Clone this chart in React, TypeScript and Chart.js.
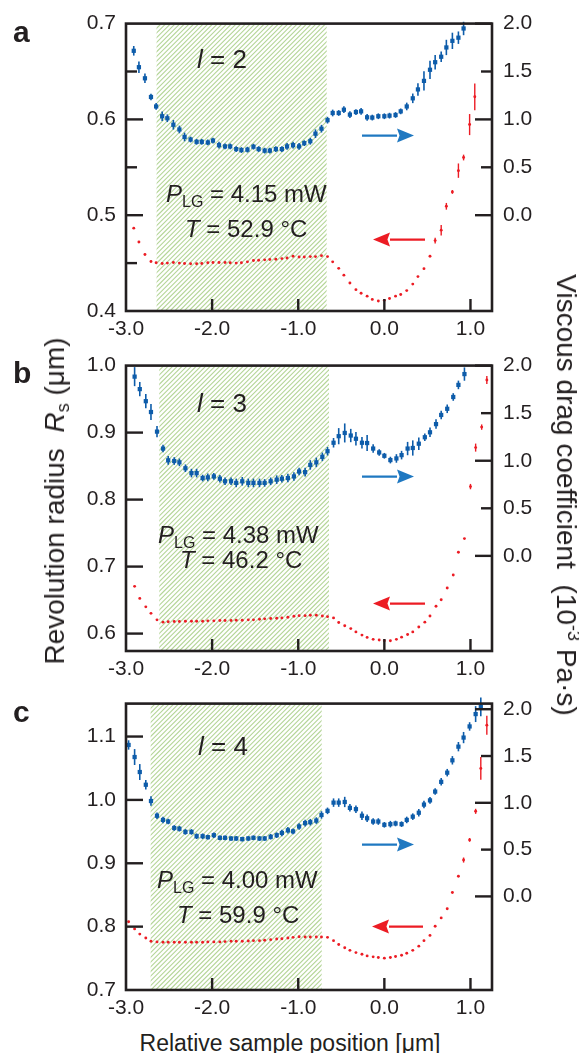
import React, { useEffect, useRef } from "react";
import { Chart, registerables } from "chart.js";

Chart.register(...registerables);

const FONT = "'Liberation Sans', Arial, Helvetica, sans-serif";
const INK = "#231f20";
const BLUE = "#0d5caa";
const BLUE_ARROW = "#1f78c1";
const RED = "#ec1c24";
const HATCH = "#b4d597";

// ---------- shared axis tick lists ----------
const X_LABELS = [-3, -2, -1, 0, 1];
const X_INNER = [-2, -1, 0, 1];
const RIGHT_LABELS = [0, 0.5, 1, 1.5, 2];
const RIGHT_MAJOR = [0, 1, 2];
const RIGHT_MINOR = [0.5, 1.5];

// ---------- panel a (l = 2) ----------
const xA = [-2.91, -2.85, -2.78, -2.71, -2.65, -2.58, -2.52, -2.45, -2.38, -2.32, -2.25, -2.18, -2.12, -2.05, -1.99, -1.92, -1.85, -1.79, -1.72, -1.66, -1.59, -1.52, -1.46, -1.39, -1.33, -1.26, -1.19, -1.13, -1.06, -0.99, -0.93, -0.86, -0.8, -0.73, -0.66, -0.6, -0.53, -0.47, -0.4, -0.33, -0.27, -0.2, -0.14, -0.07, 0.0, 0.06, 0.13, 0.19, 0.26, 0.33, 0.39, 0.46, 0.53, 0.59, 0.66, 0.72, 0.79, 0.86, 0.92, 0.99, 1.05];
const dragA = [1.716, 1.545, 1.429, 1.234, 1.135, 1.033, 1.012, 0.944, 0.895, 0.817, 0.79, 0.766, 0.766, 0.759, 0.779, 0.731, 0.718, 0.718, 0.69, 0.68, 0.684, 0.715, 0.69, 0.674, 0.674, 0.69, 0.69, 0.718,
  0.731, 0.718, 0.752, 0.772, 0.851, 0.903, 0.992, 1.067, 1.067, 1.101, 1.05, 1.077, 1.084, 1.022, 1.019, 1.033, 1.033, 1.039, 1.046, 1.084, 1.135, 1.22, 1.313, 1.402, 1.518, 1.597, 1.654, 1.751, 1.82, 1.853, 1.949];
const dragErrA = [0.05, 0.06, 0.05, 0.035, 0.035, 0.05, 0.04, 0.05, 0.04, 0.045, 0.03, 0.03, 0.03, 0.03, 0.03, 0.035, 0.03, 0.03, 0.03, 0.03, 0.03, 0.03, 0.03, 0.03, 0.03, 0.03, 0.03, 0.035,
  0.035, 0.035, 0.03, 0.035, 0.045, 0.04, 0.035, 0.035, 0.03, 0.035, 0.035, 0.03, 0.035, 0.035, 0.03, 0.03, 0.03, 0.03, 0.03, 0.03, 0.04, 0.05, 0.065, 0.1, 0.095, 0.075, 0.055, 0.08, 0.085, 0.065, 0.07];
const radiusA = [0.4865, 0.472, 0.459, 0.4517, 0.4503, 0.4496, 0.45, 0.4507, 0.45, 0.4496, 0.4493, 0.4493, 0.4496, 0.4503, 0.4507, 0.4507, 0.4507, 0.4503, 0.45, 0.4503, 0.4513, 0.4527, 0.453, 0.4534, 0.4537, 0.454, 0.4547, 0.4554,
  0.4571, 0.4564, 0.4564, 0.4568, 0.4568, 0.4578, 0.4568, 0.4513, 0.4445, 0.4374, 0.4292, 0.4223, 0.4186, 0.4155, 0.4121, 0.4104, 0.4111, 0.4131, 0.4155, 0.4172, 0.4213, 0.4281, 0.4359, 0.4442, 0.4571, 0.4735, 0.4844, 0.5093, 0.5243, 0.5465, 0.5602, 0.5946, 0.6236];
const radiusErrA = [0, 0, 0, 0, 0, 0, 0, 0, 0, 0, 0, 0, 0, 0, 0, 0, 0, 0, 0, 0, 0, 0, 0, 0, 0, 0, 0, 0, 0, 0,
  0, 0, 0, 0, 0, 0, 0, 0, 0, 0, 0, 0, 0, 0, 0, 0, 0, 0, 0, 0, 0, 0, 0, 0.003, 0.0055, 0.0035, 0.002, 0.0075, 0.003, 0.011, 0.014];
const leftLabelsA = [0.4, 0.5, 0.6, 0.7];
const leftMajorA = [0.5, 0.6];
const leftMinorA = [0.45, 0.55, 0.65];

// ---------- panel b (l = 3) ----------
const xB = [-2.9, -2.84, -2.77, -2.71, -2.64, -2.57, -2.51, -2.44, -2.38, -2.31, -2.24, -2.18, -2.11, -2.05, -1.98, -1.91, -1.85, -1.78, -1.72, -1.65, -1.58, -1.52, -1.45, -1.39, -1.32, -1.25, -1.19, -1.12, -1.05, -0.99, -0.92, -0.86, -0.79, -0.72, -0.66, -0.59, -0.53, -0.46, -0.39, -0.33, -0.26, -0.2, -0.13, -0.06, 0.0, 0.07, 0.14, 0.2, 0.27, 0.33, 0.4, 0.47, 0.53, 0.6, 0.66, 0.73, 0.8, 0.86, 0.93, 1.0, 1.06, 1.13, 1.19];
const dragB = [1.884, 1.753, 1.626, 1.512, 1.306, 1.128, 1.004, 0.997, 0.983, 0.921, 0.87, 0.87, 0.818, 0.825, 0.835, 0.811, 0.784, 0.784, 0.767, 0.784, 0.767, 0.767, 0.767, 0.767, 0.784, 0.801, 0.811, 0.818,
  0.835, 0.887, 0.88, 0.956, 0.983, 1.041, 1.1, 1.189, 1.258, 1.292, 1.265, 1.231, 1.189, 1.186, 1.128, 1.087, 1.052, 1.007, 1.024, 1.059, 1.128, 1.134, 1.179, 1.247, 1.299, 1.385, 1.481, 1.546, 1.67, 1.797, 1.911];
const dragErrB = [0.1, 0.075, 0.075, 0.085, 0.06, 0.04, 0.045, 0.04, 0.04, 0.04, 0.045, 0.045, 0.035, 0.04, 0.035, 0.04, 0.04, 0.04, 0.045, 0.045, 0.045, 0.045, 0.045, 0.04, 0.04, 0.045, 0.04, 0.045,
  0.045, 0.04, 0.045, 0.05, 0.05, 0.045, 0.045, 0.05, 0.085, 0.1, 0.07, 0.07, 0.06, 0.085, 0.045, 0.035, 0.03, 0.035, 0.045, 0.045, 0.07, 0.08, 0.065, 0.04, 0.05, 0.05, 0.045, 0.045, 0.04, 0.045, 0.07];
const radiusB = [0.6705, 0.6525, 0.6399, 0.6302, 0.6205, 0.6171, 0.6176, 0.618, 0.618, 0.6185, 0.6185, 0.6185, 0.6185, 0.619, 0.619, 0.6195, 0.6195, 0.6195, 0.62, 0.62, 0.6205, 0.6205, 0.6215, 0.622, 0.6224, 0.6229, 0.6234, 0.6244,
  0.6258, 0.6268, 0.6268, 0.6273, 0.6273, 0.6263, 0.6253, 0.6234, 0.6166, 0.6117, 0.6074, 0.6025, 0.5977, 0.5943, 0.5914, 0.5904, 0.5894, 0.5894, 0.5914, 0.5947, 0.5986, 0.6025, 0.6098, 0.6171, 0.6263, 0.6409, 0.6505, 0.668, 0.6875, 0.7214, 0.7418, 0.8194, 0.8776, 0.9082, 0.9786];
const radiusErrB = [0, 0, 0, 0, 0, 0, 0, 0, 0, 0, 0, 0, 0, 0, 0, 0, 0, 0, 0, 0, 0, 0, 0, 0, 0, 0, 0, 0, 0, 0,
  0, 0, 0, 0, 0, 0, 0, 0, 0, 0, 0, 0, 0, 0, 0, 0, 0, 0, 0, 0, 0, 0, 0, 0, 0, 0, 0, 0, 0, 0.004, 0.006, 0.004, 0.006];
const leftLabelsB = [0.6, 0.7, 0.8, 0.9, 1.0];
const leftMajorB = [0.6, 0.7, 0.8, 0.9];
const leftMinorB: number[] = [];

// ---------- panel c (l = 4) ----------
const xC = [-2.97, -2.9, -2.84, -2.77, -2.71, -2.64, -2.57, -2.51, -2.44, -2.38, -2.31, -2.24, -2.18, -2.11, -2.05, -1.98, -1.91, -1.85, -1.78, -1.72, -1.65, -1.58, -1.52, -1.45, -1.39, -1.32, -1.25, -1.19, -1.12, -1.06, -0.99, -0.92, -0.86, -0.79, -0.73, -0.66, -0.59, -0.53, -0.46, -0.4, -0.33, -0.26, -0.2, -0.13, -0.07, 0.0, 0.07, 0.13, 0.2, 0.26, 0.33, 0.4, 0.46, 0.53, 0.59, 0.66, 0.73, 0.79, 0.86, 0.92, 0.99, 1.06, 1.12, 1.19];
const dragC = [1.618, 1.489, 1.329, 1.193, 1.019, 0.862, 0.817, 0.8, 0.731, 0.723, 0.689, 0.689, 0.643, 0.643, 0.633, 0.654, 0.626, 0.626, 0.619, 0.619, 0.612, 0.619, 0.626, 0.619, 0.619, 0.637, 0.654, 0.678, 0.706,
  0.695, 0.747, 0.783, 0.793, 0.81, 0.87, 0.914, 1.002, 1.002, 1.009, 0.946, 0.932, 0.862, 0.835, 0.8, 0.8, 0.765, 0.772, 0.779, 0.772, 0.817, 0.852, 0.894, 0.981, 1.026, 1.12, 1.224, 1.322, 1.454, 1.6, 1.697, 1.816, 1.948, 2.025];
const dragErrC = [0.05, 0.085, 0.085, 0.05, 0.05, 0.035, 0.035, 0.03, 0.03, 0.03, 0.03, 0.03, 0.03, 0.03, 0.025, 0.03, 0.025, 0.025, 0.025, 0.025, 0.025, 0.025, 0.025, 0.025, 0.025, 0.03, 0.03, 0.035, 0.035,
  0.03, 0.035, 0.035, 0.035, 0.035, 0.04, 0.035, 0.045, 0.045, 0.055, 0.04, 0.04, 0.045, 0.04, 0.035, 0.035, 0.03, 0.035, 0.03, 0.03, 0.035, 0.035, 0.04, 0.04, 0.035, 0.035, 0.04, 0.04, 0.045, 0.05, 0.06, 0.045, 0.085, 0.1];
const radiusC = [0.8077, 0.7964, 0.7882, 0.782, 0.7769, 0.7759, 0.7754, 0.7754, 0.7754, 0.7754, 0.7754, 0.7754, 0.7754, 0.7754, 0.7759, 0.7759, 0.7759, 0.7764, 0.7769, 0.7769, 0.7769, 0.7774, 0.7779, 0.7779, 0.7785, 0.7795, 0.7805, 0.781, 0.782,
  0.7831, 0.7841, 0.7836, 0.7836, 0.7836, 0.7836, 0.7831, 0.7779, 0.7718, 0.7667, 0.7626, 0.759, 0.7564, 0.7538, 0.7523, 0.7513, 0.7503, 0.7513, 0.7528, 0.7549, 0.758, 0.7626, 0.7692, 0.7779, 0.7862, 0.8005, 0.8138, 0.8282, 0.8538, 0.8795, 0.9051, 0.9369, 0.982, 1.0497, 1.118];
const radiusErrC = [0, 0, 0, 0, 0, 0, 0, 0, 0, 0, 0, 0, 0, 0, 0, 0, 0, 0, 0, 0, 0, 0, 0, 0, 0, 0, 0, 0, 0, 0,
  0, 0, 0, 0, 0, 0, 0, 0, 0, 0, 0, 0, 0, 0, 0, 0, 0, 0, 0, 0, 0, 0, 0, 0, 0, 0, 0, 0, 0, 0.004, 0.003, 0.004, 0.018, 0.015];
const leftLabelsC = [0.7, 0.8, 0.9, 1.0, 1.1];
const leftMajorC = [0.8, 0.9, 1.0, 1.1];
const leftMinorC: number[] = [];

// ---------- annotation texts ----------
const PANEL_LETTERS = ["a", "b", "c"];
const L_VALUES = ["2", "3", "4"];
const P_VALUES = ["4.15", "4.38", "4.00"];
const T_VALUES = ["52.9", "46.2", "59.9"];

type Panel = {
  top: number; height: number; padTop: number; xHeight: number;
  x: number[]; drag: number[]; dragErr: number[]; radius: number[]; radiusErr: number[];
  yMin: number; yMax: number; y2Max: number;
  leftLabels: number[]; leftMajor: number[]; leftMinor: number[];
  hatch: [number, number];
  idx: number; letterY: number;
  lPos: [number, number]; pPos: [number, number]; tPos: [number, number];
  blueArrow: [number, number, number]; redArrow: [number, number, number];
};

const PANELS: Panel[] = [
  {
    top: 0, height: 342, padTop: 19, xHeight: 31,
    x: xA, drag: dragA, dragErr: dragErrA, radius: radiusA, radiusErr: radiusErrA,
    yMin: 0.4, yMax: 0.7, y2Max: 2.0,
    leftLabels: leftLabelsA, leftMajor: leftMajorA, leftMinor: leftMinorA,
    hatch: [-2.645, -0.67], idx: 0, letterY: 42,
    lPos: [71, 44], pPos: [40, 178], tPos: [59, 213],
    blueArrow: [236, 288, 112], redArrow: [299, 247, 216],
  },
  {
    top: 342, height: 338, padTop: 17, xHeight: 29,
    x: xB, drag: dragB, dragErr: dragErrB, radius: radiusB, radiusErr: radiusErrB,
    yMin: 0.574, yMax: 1.0, y2Max: 2.0,
    leftLabels: leftLabelsB, leftMajor: leftMajorB, leftMinor: leftMinorB,
    hatch: [-2.614, -0.643], idx: 1, letterY: 41,
    lPos: [71, 46], pPos: [32, 177], tPos: [54, 202],
    blueArrow: [236, 288, 111], redArrow: [299, 247, 238],
  },
  {
    top: 680, height: 345, padTop: 16, xHeight: 35,
    x: xC, drag: dragC, dragErr: dragErrC, radius: radiusC, radiusErr: radiusErrC,
    yMin: 0.7, yMax: 1.152, y2Max: 2.06,
    leftLabels: leftLabelsC, leftMajor: leftMajorC, leftMinor: leftMinorC,
    hatch: [-2.714, -0.728], idx: 2, letterY: 42,
    lPos: [72, 51], pPos: [31, 184], tPos: [51, 219],
    blueArrow: [236, 288, 141], redArrow: [297, 246, 223],
  },
];

type Seg = { t: string; it?: boolean; sub?: boolean };

function drawRich(ctx: CanvasRenderingContext2D, x: number, y: number, segs: Seg[], size: number, subSize: number) {
  let cx = x;
  ctx.textAlign = "left";
  ctx.textBaseline = "alphabetic";
  for (const s of segs) {
    const sz = s.sub ? subSize : size;
    ctx.font = `${s.it ? "italic " : ""}${sz}px ${FONT}`;
    ctx.fillText(s.t, cx, s.sub ? y + 5 : y);
    cx += ctx.measureText(s.t).width;
  }
}

function drawArrow(ctx: CanvasRenderingContext2D, tail: number, tip: number, y: number, color: string) {
  const dir = tip > tail ? 1 : -1;
  const headLen = 17;
  const half = 7;
  ctx.save();
  ctx.strokeStyle = color;
  ctx.fillStyle = color;
  ctx.lineWidth = 2.2;
  ctx.beginPath();
  ctx.moveTo(tail, y);
  ctx.lineTo(tip - dir * headLen, y);
  ctx.stroke();
  ctx.beginPath();
  ctx.moveTo(tip, y);
  ctx.lineTo(tip - dir * headLen, y - half);
  ctx.lineTo(tip - dir * headLen * 0.85, y);
  ctx.lineTo(tip - dir * headLen, y + half);
  ctx.closePath();
  ctx.fill();
  ctx.restore();
}

function makePlugin(p: Panel) {
  return {
    id: "deco" + p.idx,
    beforeDatasetsDraw(chart: any) {
      const { ctx, chartArea: ca, scales } = chart;
      // hatched region
      const x0 = scales.x.getPixelForValue(p.hatch[0]);
      const x1 = scales.x.getPixelForValue(p.hatch[1]);
      const h = ca.bottom - ca.top;
      ctx.save();
      ctx.beginPath();
      ctx.rect(x0, ca.top, x1 - x0, h);
      ctx.clip();
      ctx.strokeStyle = HATCH;
      ctx.lineWidth = 1.1;
      for (let s = x0 - h; s < x1 + 6; s += 4.7) {
        ctx.beginPath();
        ctx.moveTo(s, ca.bottom);
        ctx.lineTo(s + h, ca.top);
        ctx.stroke();
      }
      ctx.restore();
      // error bars
      chart.data.datasets.forEach((ds: any, i: number) => {
        const meta = chart.getDatasetMeta(i);
        const ys = scales[ds.yAxisID];
        ctx.save();
        ctx.strokeStyle = ds.backgroundColor;
        ctx.lineWidth = ds.errWidth;
        meta.data.forEach((pt: any, j: number) => {
          const e = ds.errors[j];
          if (!e) return;
          const v = ds.data[j].y;
          ctx.beginPath();
          ctx.moveTo(pt.x, ys.getPixelForValue(v - e));
          ctx.lineTo(pt.x, ys.getPixelForValue(v + e));
          ctx.stroke();
        });
        ctx.restore();
      });
    },
    afterDatasetsDraw(chart: any) {
      const { ctx, chartArea: ca, scales } = chart;
      ctx.save();
      ctx.strokeStyle = INK;
      // frame
      ctx.lineWidth = 2.6;
      ctx.strokeRect(ca.left, ca.top, ca.right - ca.left, ca.bottom - ca.top);
      // inward ticks
      ctx.lineWidth = 2.4;
      const tick = (x0: number, y0: number, x1: number, y1: number) => {
        ctx.beginPath(); ctx.moveTo(x0, y0); ctx.lineTo(x1, y1); ctx.stroke();
      };
      p.leftMajor.forEach((v) => { const y = scales.y.getPixelForValue(v); tick(ca.left, y, ca.left + 17, y); });
      p.leftMinor.forEach((v) => { const y = scales.y.getPixelForValue(v); tick(ca.left, y, ca.left + 11, y); });
      RIGHT_MAJOR.forEach((v) => { const y = scales.y2.getPixelForValue(v); tick(ca.right, y, ca.right - 17, y); });
      RIGHT_MINOR.forEach((v) => { const y = scales.y2.getPixelForValue(v); tick(ca.right, y, ca.right - 11, y); });
      X_INNER.forEach((v) => { const x = scales.x.getPixelForValue(v); tick(x, ca.bottom, x, ca.bottom - 12); });
      ctx.restore();

      // arrows
      drawArrow(ctx, ca.left + p.blueArrow[0], ca.left + p.blueArrow[1], ca.top + p.blueArrow[2], BLUE_ARROW);
      drawArrow(ctx, ca.left + p.redArrow[0], ca.left + p.redArrow[1], ca.top + p.redArrow[2], RED);

      // texts
      ctx.save();
      ctx.fillStyle = INK;
      drawRich(ctx, ca.left + p.lPos[0], ca.top + p.lPos[1], [{ t: "l", it: true }, { t: " = " + L_VALUES[p.idx] }], 26, 16);
      drawRich(ctx, ca.left + p.pPos[0], ca.top + p.pPos[1], [{ t: "P", it: true }, { t: "LG", sub: true }, { t: " = " + P_VALUES[p.idx] + " mW" }], 24, 16);
      drawRich(ctx, ca.left + p.tPos[0], ca.top + p.tPos[1], [{ t: "T", it: true }, { t: " = " + T_VALUES[p.idx] + " °C" }], 24, 16);
      ctx.font = `bold 30px ${FONT}`;
      ctx.textAlign = "left";
      ctx.fillText(PANEL_LETTERS[p.idx], 13, p.letterY);
      ctx.restore();
    },
  };
}

function PanelChart({ p }: { p: Panel }) {
  const ref = useRef<HTMLCanvasElement>(null);
  useEffect(() => {
    const tickFont = { family: FONT, size: 21 };
    const chart = new Chart(ref.current as HTMLCanvasElement, {
      type: "scatter",
      data: {
        datasets: [
          {
            label: "drag",
            data: p.drag.map((y, i) => ({ x: p.x[i], y })),
            yAxisID: "y2",
            pointStyle: "rect",
            pointRadius: 3.0,
            pointBorderWidth: 0,
            backgroundColor: BLUE,
            borderColor: BLUE,
            clip: false,
            errors: p.dragErr,
            errWidth: 1.6,
          } as any,
          {
            label: "radius",
            data: p.radius.map((y, i) => ({ x: p.x[i], y })),
            yAxisID: "y",
            pointStyle: "circle",
            pointRadius: 1.45,
            pointBorderWidth: 0,
            backgroundColor: RED,
            borderColor: RED,
            clip: false,
            errors: p.radiusErr,
            errWidth: 1.4,
          } as any,
        ],
      },
      options: {
        animation: false,
        responsive: false,
        maintainAspectRatio: false,
        devicePixelRatio: 1,
        events: [],
        layout: { padding: { top: p.padTop, left: 0, right: 0, bottom: 0 } },
        plugins: { legend: { display: false }, tooltip: { enabled: false } },
        scales: {
          x: {
            type: "linear",
            position: "bottom",
            min: -3.0,
            max: 1.25,
            afterBuildTicks: (s: any) => { s.ticks = X_LABELS.map((v) => ({ value: v })); },
            afterFit: (s: any) => { s.height = p.xHeight; },
            ticks: { font: tickFont, color: INK, padding: 6, autoSkip: false, maxRotation: 0, callback: (v: any) => Number(v).toFixed(1) },
            grid: { display: false, drawTicks: false },
            border: { display: false },
          },
          y: {
            type: "linear",
            position: "left",
            min: p.yMin,
            max: p.yMax,
            afterBuildTicks: (s: any) => { s.ticks = p.leftLabels.map((v) => ({ value: v })); },
            afterFit: (s: any) => { s.width = 126; },
            ticks: { font: tickFont, color: INK, padding: 10, autoSkip: false, callback: (v: any) => Number(v).toFixed(1) },
            grid: { display: false, drawTicks: false },
            border: { display: false },
          },
          y2: {
            type: "linear",
            position: "right",
            min: -1.0,
            max: p.y2Max,
            afterBuildTicks: (s: any) => { s.ticks = RIGHT_LABELS.map((v) => ({ value: v })); },
            afterFit: (s: any) => { s.width = 87; },
            ticks: { font: tickFont, color: INK, padding: 11, autoSkip: false, callback: (v: any) => Number(v).toFixed(1) },
            grid: { display: false, drawTicks: false },
            border: { display: false },
          },
        },
      } as any,
      plugins: [makePlugin(p)],
    });
    return () => chart.destroy();
  }, []);
  return (
    <canvas
      ref={ref}
      width={579}
      height={p.height}
      style={{ position: "absolute", left: 0, top: p.top, width: 579, height: p.height, display: "block" }}
    />
  );
}

export default function App() {
  const titleStyle: React.CSSProperties = {
    position: "absolute",
    whiteSpace: "nowrap",
    fontFamily: FONT,
    color: INK,
    lineHeight: 1,
  };
  const small: React.CSSProperties = { fontSize: "0.65em", lineHeight: 0 };
  return (
    <div style={{ position: "absolute", left: 0, top: 0, width: 579, height: 1053, background: "#fff", overflow: "hidden" }}>
      {PANELS.map((p) => (
        <PanelChart key={p.idx} p={p} />
      ))}
      <div style={{ ...titleStyle, fontSize: 28, left: 55, top: 501, transform: "translate(-50%, -50%) rotate(-90deg)" }}>
        Revolution radius&nbsp;&nbsp;<i>R</i>
        <span style={{ ...small, verticalAlign: "-0.25em" }}>s</span>&nbsp;(μm)
      </div>
      <div style={{ ...titleStyle, fontSize: 28, left: 566, top: 495, transform: "translate(-50%, -50%) rotate(90deg)" }}>
        Viscous drag coefficient&nbsp;&nbsp;(10
        <span style={{ ...small, verticalAlign: "0.6em" }}>-3</span>&nbsp;Pa·s)
      </div>
      <div style={{ ...titleStyle, fontSize: 23, left: 290, top: 1032, transform: "translateX(-50%)" }}>
        Relative sample position [μm]
      </div>
    </div>
  );
}
